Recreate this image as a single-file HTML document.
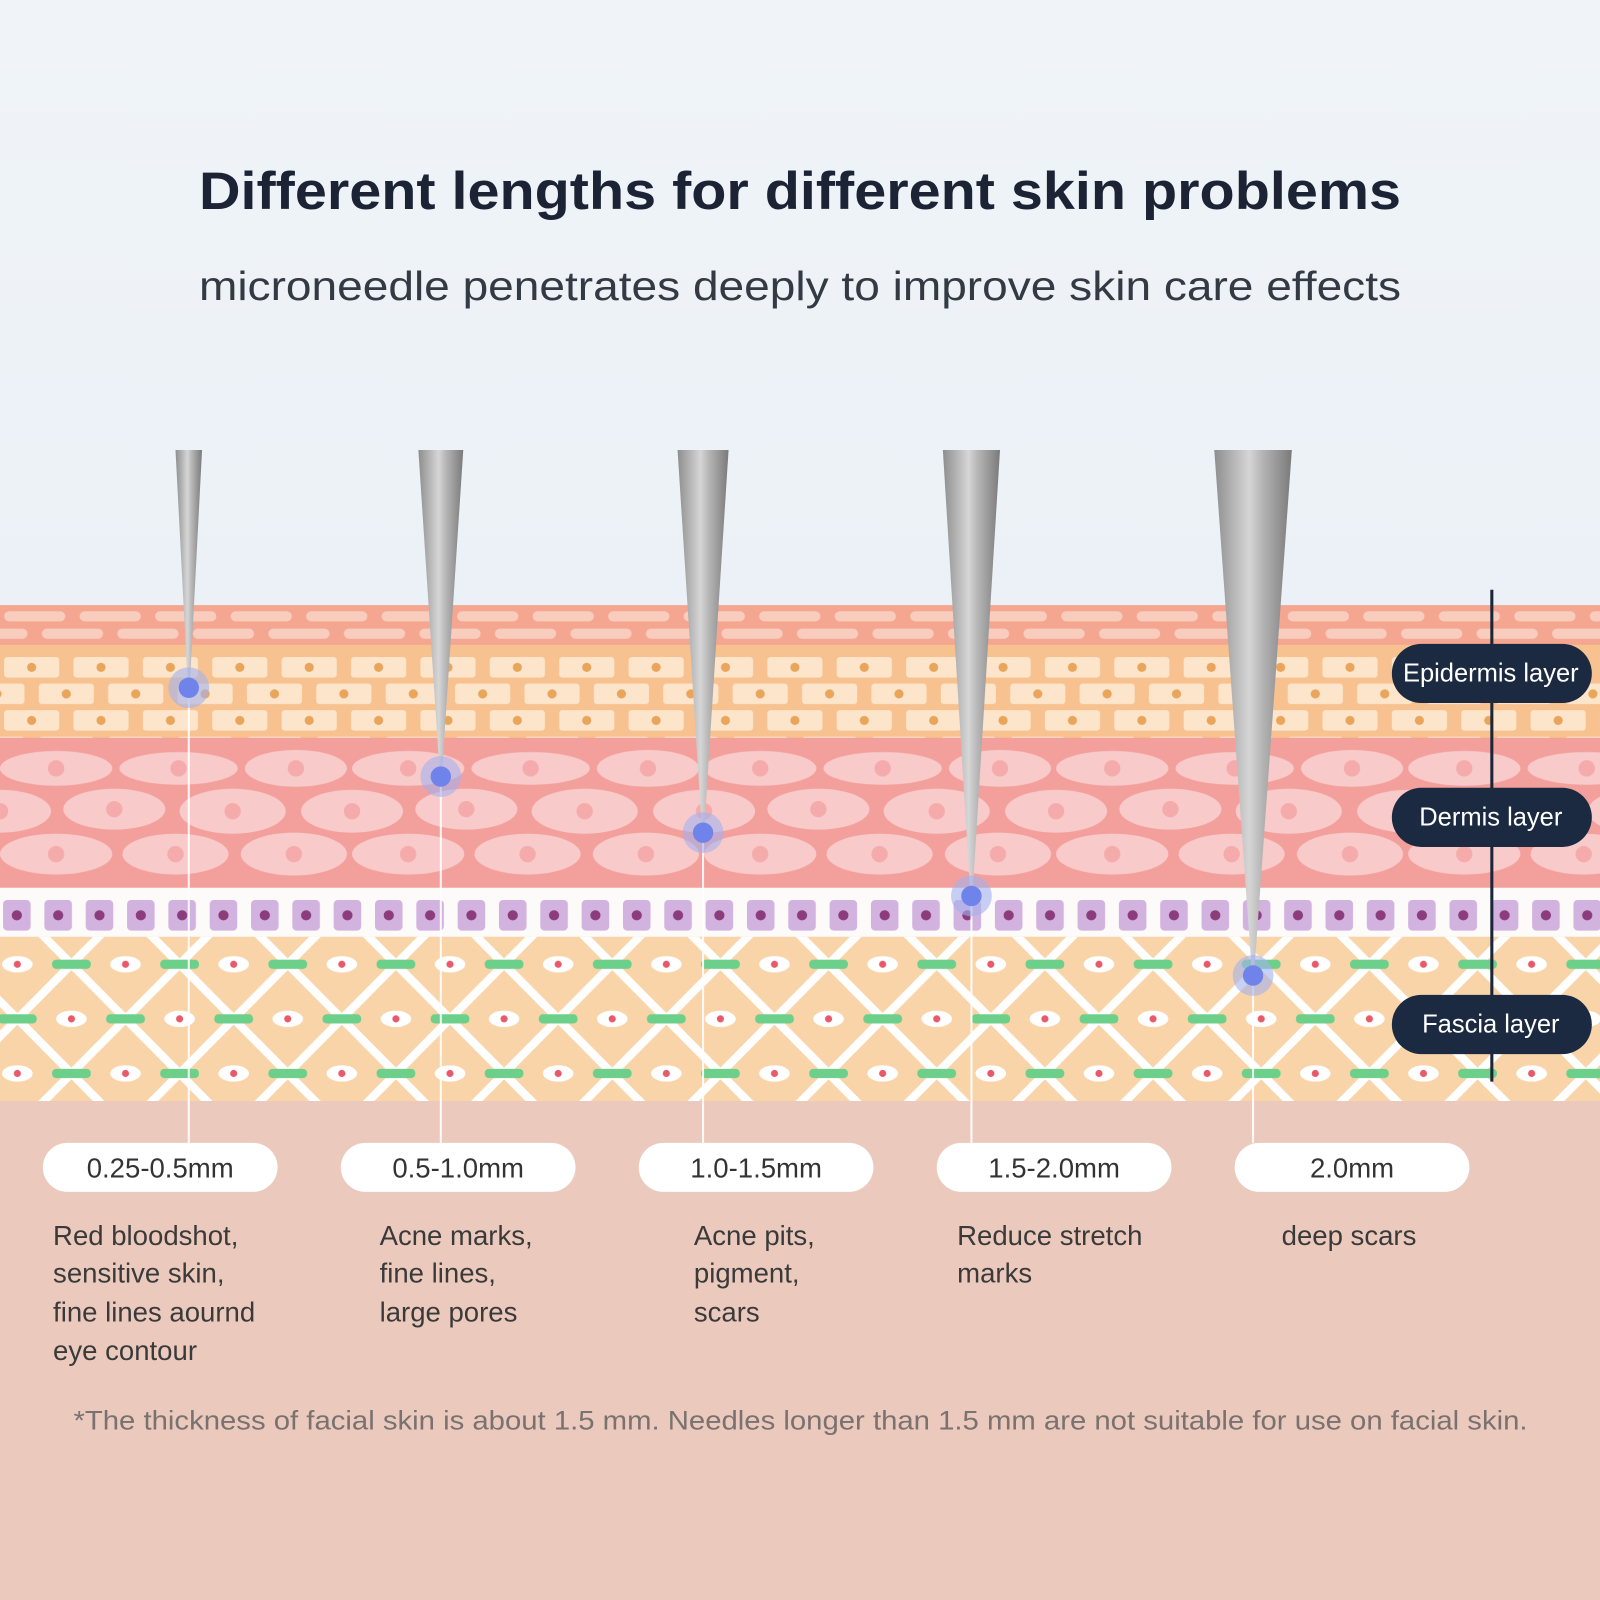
<!DOCTYPE html>
<html><head><meta charset="utf-8"><style>
html,body{margin:0;padding:0;background:#eaf1f6}
svg{display:block}
text{font-family:"Liberation Sans","DejaVu Sans",sans-serif}
</style></head><body>
<svg width="1600" height="1600" viewBox="0 0 1568 1568" xmlns="http://www.w3.org/2000/svg">
<defs>
<linearGradient id="sky" x1="0" y1="0" x2="0" y2="1">
<stop offset="0" stop-color="#f0f4f8"/><stop offset="1" stop-color="#e2ecf3"/></linearGradient>
<linearGradient id="ndl" x1="0" y1="0" x2="1" y2="0">
<stop offset="0" stop-color="#8e8e8e"/><stop offset="0.45" stop-color="#d6d6d6"/><stop offset="0.6" stop-color="#b8b8b8"/><stop offset="1" stop-color="#7a7a7a"/></linearGradient>
<pattern id="corn" x="0" y="596" width="74" height="34" patternUnits="userSpaceOnUse">
<rect x="4" y="3" width="60" height="10" rx="5" fill="#f9cdbd"/>
<rect x="41" y="20" width="60" height="10" rx="5" fill="#f9cdbd"/>
<rect x="-33" y="20" width="60" height="10" rx="5" fill="#f9cdbd"/>
</pattern>
<pattern id="epi" x="0" y="642" width="68" height="52" patternUnits="userSpaceOnUse">
<rect x="4" y="2" width="54" height="20" rx="3" fill="#fce5cb"/><circle cx="31" cy="12" r="4.5" fill="#eaa55c"/>
<rect x="38" y="28" width="54" height="20" rx="3" fill="#fce5cb"/><circle cx="65" cy="38" r="4.5" fill="#eaa55c"/>
<rect x="-30" y="28" width="54" height="20" rx="3" fill="#fce5cb"/><circle cx="-3" cy="38" r="4.5" fill="#eaa55c"/>
</pattern>
<pattern id="derm" x="0" y="723" width="345" height="150" patternUnits="userSpaceOnUse">
<g fill="#f9caca">
<ellipse cx="55" cy="30" rx="55" ry="17"/><ellipse cx="175" cy="30" rx="58" ry="16"/><ellipse cx="290" cy="30" rx="50" ry="18"/>
<ellipse cx="0" cy="72" rx="50" ry="21"/><ellipse cx="345" cy="72" rx="50" ry="21"/><ellipse cx="112" cy="70" rx="50" ry="20"/><ellipse cx="228" cy="72" rx="52" ry="22"/>
<ellipse cx="55" cy="114" rx="55" ry="20"/><ellipse cx="172" cy="114" rx="52" ry="20"/><ellipse cx="288" cy="114" rx="52" ry="21"/>
</g>
<g fill="#f5abab">
<circle cx="55" cy="30" r="8"/><circle cx="175" cy="30" r="8"/><circle cx="290" cy="30" r="8"/>
<circle cx="0" cy="72" r="8"/><circle cx="345" cy="72" r="8"/><circle cx="112" cy="70" r="8"/><circle cx="228" cy="72" r="8"/>
<circle cx="55" cy="114" r="8"/><circle cx="172" cy="114" r="8"/><circle cx="288" cy="114" r="8"/>
</g>
</pattern>
<pattern id="purp" x="3" y="882" width="40.5" height="40" patternUnits="userSpaceOnUse">
<rect x="0" y="0" width="27" height="30" rx="4" fill="#d2b3df"/><circle cx="13.5" cy="15" r="5" fill="#8c3c7c"/>
</pattern>
<pattern id="fas" x="70" y="945" width="106" height="107" patternUnits="userSpaceOnUse">
<line x1="0" y1="0" x2="106" y2="107" stroke="#fff" stroke-width="8"/>
<line x1="106" y1="0" x2="0" y2="107" stroke="#fff" stroke-width="8"/>
<g fill="#6ccf8a">
<rect x="34" y="49" width="38" height="9" rx="4"/>
<rect x="-19" y="-4.5" width="38" height="9" rx="4"/><rect x="87" y="-4.5" width="38" height="9" rx="4"/>
<rect x="-19" y="102.5" width="38" height="9" rx="4"/><rect x="87" y="102.5" width="38" height="9" rx="4"/>
</g>
<g fill="#fff">
<ellipse cx="53" cy="0" rx="15" ry="8"/><ellipse cx="53" cy="107" rx="15" ry="8"/>
<ellipse cx="0" cy="53.5" rx="15" ry="8"/><ellipse cx="106" cy="53.5" rx="15" ry="8"/>
</g>
<g fill="#e85a6a">
<circle cx="53" cy="0" r="3.5"/><circle cx="53" cy="107" r="3.5"/><circle cx="0" cy="53.5" r="3.5"/><circle cx="106" cy="53.5" r="3.5"/>
</g>
</pattern>
</defs>

<rect width="1568" height="1568" fill="url(#sky)"/>
<text x="195" y="205" font-size="52" font-weight="bold" fill="#1b2335" textLength="1178" lengthAdjust="spacingAndGlyphs">Different lengths for different skin problems</text>
<text x="195" y="294" font-size="40" fill="#333a44" textLength="1178" lengthAdjust="spacingAndGlyphs">microneedle penetrates deeply to improve skin care effects</text>

<!-- layers -->
<rect x="0" y="593" width="1568" height="40" fill="#f4a690"/>
<rect x="0" y="593" width="1568" height="36" fill="url(#corn)"/>
<rect x="0" y="632" width="1568" height="92" fill="#f8c290"/>
<rect x="0" y="641" width="1568" height="83" fill="url(#epi)"/>
<rect x="0" y="723" width="1568" height="150" fill="#f3a09c"/>
<rect x="0" y="723" width="1568" height="150" fill="url(#derm)"/>
<rect x="0" y="870" width="1568" height="50" fill="#fdfafa"/>
<rect x="0" y="882" width="1568" height="31" fill="url(#purp)"/>
<rect x="0" y="918" width="1568" height="162" fill="#f9d4a9"/>
<rect x="0" y="918" width="1568" height="162" fill="url(#fas)"/>
<rect x="0" y="1079" width="1568" height="489" fill="#ebcabd"/>

<!-- needle lines -->
<g stroke="#ffffff" stroke-width="2" opacity="0.9">
<line x1="185" y1="672" x2="185" y2="1120"/>
<line x1="432" y1="760" x2="432" y2="1120"/>
<line x1="689" y1="815" x2="689" y2="1120"/>
<line x1="952" y1="878" x2="952" y2="1120"/>
<line x1="1228" y1="955" x2="1228" y2="1120"/>
</g>
<!-- needles -->
<g fill="url(#ndl)">
<polygon points="172,441 198,441 186,672 184,672"/>
<polygon points="410,441 454,441 433,760 431,760"/>
<polygon points="664,441 714,441 690,815 688,815"/>
<polygon points="924,441 980,441 953,878 951,878"/>
<polygon points="1190,441 1266,441 1229,955 1227,955"/>
</g>
<g>
<circle cx="185" cy="674" r="20" fill="#a4b0ee" opacity="0.6"/><circle cx="185" cy="674" r="10" fill="#6f83ea"/>
<circle cx="432" cy="761" r="20" fill="#a4b0ee" opacity="0.6"/><circle cx="432" cy="761" r="10" fill="#6f83ea"/>
<circle cx="689" cy="816" r="20" fill="#a4b0ee" opacity="0.6"/><circle cx="689" cy="816" r="10" fill="#6f83ea"/>
<circle cx="952" cy="878" r="20" fill="#a4b0ee" opacity="0.6"/><circle cx="952" cy="878" r="10" fill="#6f83ea"/>
<circle cx="1228" cy="956" r="20" fill="#a4b0ee" opacity="0.6"/><circle cx="1228" cy="956" r="10" fill="#6f83ea"/>
</g>

<!-- right labels -->
<line x1="1462" y1="578" x2="1462" y2="1060" stroke="#1b2638" stroke-width="3"/>
<g fill="#1b2a40">
<rect x="1364" y="631" width="196" height="58" rx="29"/>
<rect x="1364" y="772" width="196" height="58" rx="29"/>
<rect x="1364" y="975" width="196" height="58" rx="29"/>
</g>
<g fill="#fff" font-size="25" text-anchor="middle">
<text x="1461" y="668">Epidermis layer</text>
<text x="1461" y="809">Dermis layer</text>
<text x="1461" y="1012">Fascia layer</text>
</g>

<!-- pills -->
<g fill="#fff">
<rect x="42" y="1120" width="230" height="48" rx="24"/>
<rect x="334" y="1120" width="230" height="48" rx="24"/>
<rect x="626" y="1120" width="230" height="48" rx="24"/>
<rect x="918" y="1120" width="230" height="48" rx="24"/>
<rect x="1210" y="1120" width="230" height="48" rx="24"/>
</g>
<g fill="#333" font-size="27" text-anchor="middle">
<text x="157" y="1154">0.25-0.5mm</text>
<text x="449" y="1154">0.5-1.0mm</text>
<text x="741" y="1154">1.0-1.5mm</text>
<text x="1033" y="1154">1.5-2.0mm</text>
<text x="1325" y="1154">2.0mm</text>
</g>
<g fill="#3a3a3a" font-size="27">
<text x="52" y="1220">Red bloodshot,</text>
<text x="52" y="1257">sensitive skin,</text>
<text x="52" y="1295">fine lines aournd</text>
<text x="52" y="1333">eye contour</text>
<text x="372" y="1220">Acne marks,</text>
<text x="372" y="1257">fine lines,</text>
<text x="372" y="1295">large pores</text>
<text x="680" y="1220">Acne pits,</text>
<text x="680" y="1257">pigment,</text>
<text x="680" y="1295">scars</text>
<text x="938" y="1220">Reduce stretch</text>
<text x="938" y="1257">marks</text>
<text x="1256" y="1220">deep scars</text>
</g>
<text x="72" y="1401" font-size="26" fill="#7a7270" textLength="1425" lengthAdjust="spacingAndGlyphs">*The thickness of facial skin is about 1.5 mm. Needles longer than 1.5 mm are not suitable for use on facial skin.</text>
</svg>
</body></html>
